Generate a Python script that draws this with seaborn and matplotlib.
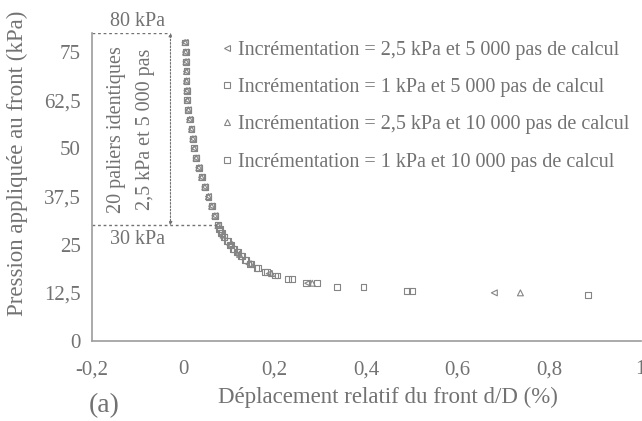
"""
Pression appliquée au front en fonction du déplacement relatif d/D (a).
"""
import matplotlib
matplotlib.use("Agg")
import matplotlib.pyplot as plt
from matplotlib.lines import Line2D
from matplotlib.ticker import FuncFormatter
import seaborn as sns
import pandas as pd

# paliers communs 80 -> 30 kPa (2,5 kPa, 5 000 pas)
p_commun = [77.5, 75, 72.5, 70, 67.5, 65, 62.5, 60, 57.5, 55,
            52.5, 50, 47.5, 45, 42.5, 40, 37.5, 35, 32.5, 30]
d_commun = [0.004, 0.005, 0.006, 0.007, 0.007, 0.008, 0.009, 0.011, 0.014, 0.018,
            0.021, 0.024, 0.028, 0.034, 0.040, 0.047, 0.055, 0.062, 0.069, 0.076]

# suite des calculs sous 30 kPa
p_25 = [27.5, 25, 22.5, 20, 17.5, 15, 12.5]
d_25_5000 = [0.085, 0.101, 0.120, 0.143, 0.188, 0.272, 0.680]
d_25_10000 = [0.087, 0.104, 0.123, 0.147, 0.193, 0.282, 0.737]

p_1_5000 = [29, 28, 27, 26, 25, 24, 23, 22, 21, 20, 19, 18, 17, 16, 15, 14, 13]
d_1_5000 = [0.079, 0.083, 0.089, 0.095, 0.102, 0.109, 0.117, 0.126, 0.135, 0.146,
            0.160, 0.178, 0.200, 0.228, 0.268, 0.336, 0.490]
p_1_10000 = [29, 28, 27, 26, 25, 24, 23, 22, 21, 20, 19, 18, 17, 16, 15, 14, 13, 12]
d_1_10000 = [0.080, 0.084, 0.090, 0.097, 0.104, 0.111, 0.119, 0.128, 0.138, 0.149,
             0.164, 0.183, 0.206, 0.238, 0.293, 0.394, 0.500, 0.885]

series = ["Incrémentation = 2,5 kPa et 5 000 pas de calcul",
          "Incrémentation = 1 kPa et 5 000 pas de calcul",
          "Incrémentation = 2,5 kPa et 10 000 pas de calcul",
          "Incrémentation = 1 kPa et 10 000 pas de calcul"]
marqueurs = ["<", "s", "^", "s"]

y_ticks = [0, 12.5, 25, 37.5, 50, 62.5, 75]
x_ticks = [-0.2, 0, 0.2, 0.4, 0.6, 0.8, 1]
P_HAUT, P_BAS = 80, 30

rows = []
for nom, d, p in [(series[0], d_commun + d_25_5000, p_commun + p_25),
                  (series[1], d_commun + d_1_5000, p_commun + p_1_5000),
                  (series[2], d_commun + d_25_10000, p_commun + p_25),
                  (series[3], d_commun + d_1_10000, p_commun + p_1_10000)]:
    for xi, yi in zip(d, p):
        rows.append({"serie": nom, "d": xi, "p": yi})
df = pd.DataFrame(rows)

sns.set_style("white")
plt.rcParams["font.family"] = ["Liberation Serif", "DejaVu Serif"]
gris_txt = "#727272"
gris_ax = "#9c9c9c"
gris_pt = "#858585"

fig = plt.figure(figsize=(6.42, 4.21), dpi=100)
ax = fig.add_axes([0.143, 0.19, 0.855, 0.732])

sns.scatterplot(data=df, x="d", y="p", style="serie", style_order=series,
                markers=dict(zip(series, marqueurs)), color=gris_pt,
                s=18, linewidth=0.8, legend=False, ax=ax)
for coll in ax.collections:
    coll.set_facecolor("none")
    coll.set_edgecolor(gris_pt)

ax.set_xlim(-0.2, 1.0)
ax.set_ylim(0, 80)
ax.set_xticks(x_ticks)
ax.set_yticks(y_ticks)
virgule = FuncFormatter(lambda v, _: f"{v:g}".replace(".", ","))
ax.xaxis.set_major_formatter(virgule)
ax.yaxis.set_major_formatter(virgule)
ax.tick_params(labelsize=15, colors=gris_txt, length=4, width=1,
               direction="out", color=gris_ax, pad=4)
ax.tick_params(axis="x", pad=10)
sns.despine(ax=ax)
for sp in ["left", "bottom"]:
    ax.spines[sp].set_color(gris_ax)
    ax.spines[sp].set_linewidth(1.2)

ax.set_xlabel("Déplacement relatif du front d/D (%)", fontsize=16.5,
              color=gris_txt)
ax.set_ylabel("Pression appliquée au front (kPa)", fontsize=16.5,
              color=gris_txt)
ax.xaxis.set_label_coords(0.54, -0.15)
ax.yaxis.set_label_coords(-0.117, 0.575)

# repères 80 / 30 kPa
x_fleche = -0.028
ax.plot([-0.2, x_fleche], [P_HAUT, P_HAUT], ls=(0, (2, 2)), lw=1, color=gris_txt)
ax.plot([-0.2, d_commun[-1]], [P_BAS, P_BAS], ls=(0, (2, 2)), lw=1, color=gris_txt)
ax.annotate("", xy=(x_fleche, P_HAUT), xytext=(x_fleche, P_BAS),
            arrowprops=dict(arrowstyle="<|-|>", ls=(0, (1.5, 1.5)), lw=0.8,
                            color=gris_txt, mutation_scale=5, shrinkA=0, shrinkB=0))
ax.text(-0.1, P_HAUT + 0.6, "80 kPa", fontsize=14.5, color=gris_txt,
        ha="center", va="bottom")
ax.text(-0.1, P_BAS - 1.3, "30 kPa", fontsize=14.5, color=gris_txt,
        ha="center", va="top")
ax.text(-0.145, 55, "20 paliers identiques", fontsize=14.5, color=gris_txt,
        rotation=90, ha="center", va="center")
ax.text(-0.083, 55, "2,5 kPa et 5 000 pas", fontsize=14.5, color=gris_txt,
        rotation=90, ha="center", va="center")

handles = [Line2D([], [], ls="none", marker=m, markersize=4.5, mfc="none",
                  mec=gris_pt, mew=0.8) for m in marqueurs]
leg = ax.legend(handles, series, loc="upper left", bbox_to_anchor=(0.345, 0.903),
                bbox_transform=fig.transFigure, frameon=False, fontsize=14.5,
                handlelength=0.5, handletextpad=0.3, labelspacing=0.9,
                borderaxespad=0, borderpad=0)
for t in leg.get_texts():
    t.set_color(gris_txt)

fig.text(0.162, 0.036, "(a)", fontsize=20, color=gris_txt, ha="center",
         va="center")

fig.savefig("out.png", dpi=100)
